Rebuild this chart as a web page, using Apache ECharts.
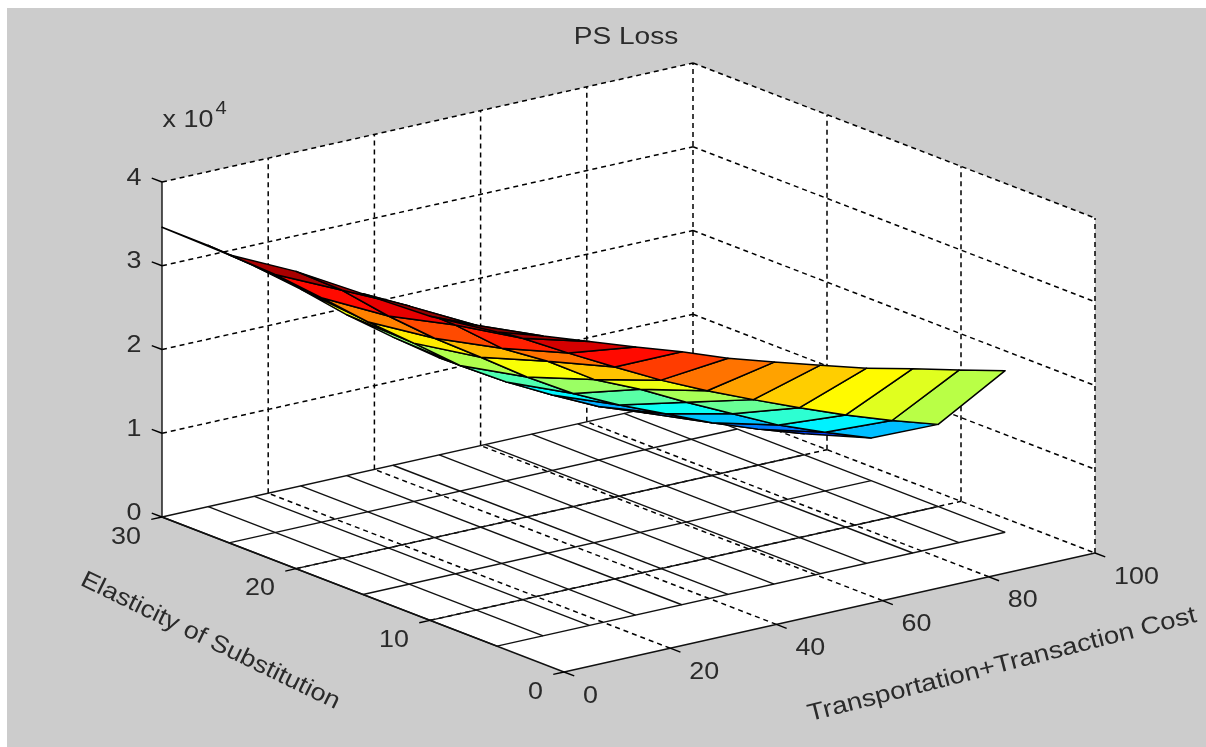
<!DOCTYPE html>
<html><head><meta charset="utf-8">
<script src="https://cdn.jsdelivr.net/npm/echarts@6/dist/echarts.min.js"></script>
<style>html,body{margin:0;padding:0;background:#fff}#c{width:1206px;height:747px}</style>
</head><body><div id="c"></div>
<script>
// ---- data ----
const title = 'PS Loss';
const xName = 'Transportation+Transaction Cost';
const yName = 'Elasticity of Substitution';
const xTicks = [0, 20, 40, 60, 80, 100];
const yTicks = [0, 10, 20, 30];
const zTicks = [0, 1, 2, 3, 4];
const xMesh = [0, 8.7, 17.4, 26.1, 34.8, 43.5, 52.2, 60.9, 69.6, 78.3, 87, 95.7];
const yMesh = [5, 10, 15, 20, 25, 30];
// PS loss in units of 1e4, one list per elasticity, along xMesh
const zAt5  = [3.75, 3.58, 3.39, 3.20, 3.02, 2.82, 2.65, 2.49, 2.33, 2.20, 2.06, 1.93];
const zAt10 = [3.63, 3.40, 3.12, 2.82, 2.53, 2.25, 2.00, 1.77, 1.55, 1.34, 1.15, 0.98];
const zAt15 = [3.59, 3.32, 2.97, 2.57, 2.29, 1.95, 1.71, 1.43, 1.17, 0.91, 0.70, 0.51];
const zAt20 = [3.55, 3.20, 2.77, 2.38, 2.03, 1.67, 1.35, 1.09, 0.86, 0.63, 0.43, 0.25];
const zAt25 = [3.44, 3.08, 2.68, 2.27, 1.89, 1.50, 1.18, 0.90, 0.64, 0.44, 0.28, 0.15];
const zAt30 = [3.46, 3.12, 2.75, 2.35, 1.92, 1.53, 1.16, 0.84, 0.55, 0.36, 0.20, 0.10];
const zRows = [zAt5, zAt10, zAt15, zAt20, zAt25, zAt30];
const zColorMax = 3.7;

// ---- view: oblique projection of the 3D box onto the plane of the hidden axes ----
const X0 = 564, Y0 = 672;
const xRange = 100, yRange = 30, zRange = 4;
const xVec = [531, -119], yVec = [-402, -155], zVec = [0, -335];
function P(x, y, z) {
  return [X0 + xVec[0] * x / xRange + yVec[0] * y / yRange + zVec[0] * z / zRange,
          Y0 + xVec[1] * x / xRange + yVec[1] * y / yRange + zVec[1] * z / zRange];
}
function jet(t) {
  t = Math.max(0, Math.min(1, t));
  const c = v => Math.round(255 * Math.max(0, Math.min(1, 1.5 - Math.abs(4 * t - v))));
  return `rgb(${c(3)},${c(2)},${c(1)})`;
}

const walls = [
  [[0, 30, 0], [100, 30, 0], [100, 30, 4], [0, 30, 4]],
  [[100, 30, 0], [100, 0, 0], [100, 0, 4], [100, 30, 4]],
  [[0, 0, 0], [100, 0, 0], [100, 30, 0], [0, 30, 0]]
];
const dashed = [], solid = [], ticks = [], texts = [];
xTicks.forEach(x => {
  if (x > 0 && x < 100) {
    dashed.push([[x, 30, 0], [x, 30, 4]]);
    dashed.push([[x, 0, 0], [x, 30, 0]]);
  }
});
yTicks.forEach(y => {
  if (y > 0 && y < 30) {
    dashed.push([[100, y, 0], [100, y, 4]]);
    dashed.push([[0, y, 0], [100, y, 0]]);
  }
});
zTicks.forEach(z => {
  if (z > 0) {
    dashed.push([[0, 30, z], [100, 30, z]]);
    dashed.push([[100, 30, z], [100, 0, z]]);
  }
});
dashed.push([[100, 30, 0], [100, 30, 4]], [[100, 0, 0], [100, 0, 4]],
            [[100, 30, 0], [100, 0, 0]], [[95, 30, 0], [100, 30, 0]]);
solid.push([[0, 30, 0], [0, 30, 4]], [[0, 30, 0], [0, 0, 0]], [[0, 0, 0], [100, 0, 0]]);
// mesh drawn on the floor
yMesh.forEach(y => solid.push([[xMesh[0], y, 0], [xMesh[xMesh.length - 1], y, 0]]));
xMesh.forEach(x => solid.push([[x, yMesh[0], 0], [x, yMesh[yMesh.length - 1], 0]]));

const TL = 11;
xTicks.forEach(x => ticks.push({ p: [x, 0, 0], d: [13.4 * TL / 14.4, 5.17 * TL / 14.4] }));
yTicks.forEach(y => ticks.push({ p: [0, y, 0], d: [-5.31 * TL / 5.44, 1.19 * TL / 5.44] }));
zTicks.forEach(z => ticks.push({ p: [0, 30, z], d: [-13.4 * TL / 14.4, -5.17 * TL / 14.4] }));

const TF = 24, SX = 1.12;
const font = 'Liberation Sans';
xTicks.forEach(x => texts.push({ s: String(x), p: [x, 0, 0], o: [19, 24], a: 'left' }));
yTicks.forEach(y => texts.push({ s: String(y), p: [0, y, 0], o: [-21, 20], a: 'right' }));
zTicks.forEach(z => texts.push({ s: String(z), p: [0, 30, z], o: [-28, -4], a: 'center' }));
texts.push({ s: 'x 10', p: [0, 30, 4], o: [26, -62], a: 'center' });
texts.push({ s: '4', p: [0, 30, 4], o: [59, -73], a: 'center', fs: 18 });
texts.push({ s: title, p: [100, 30, 4], o: [-67, -26], a: 'center', sx: 1.17 });

// painter order: far cells first
const cells = [];
for (let j = yMesh.length - 2; j >= 0; j--) {
  for (let k = xMesh.length - 2; k >= 0; k--) cells.push([k, j]);
}

function linesSeries(list, style) {
  return {
    type: 'custom', silent: true, coordinateSystem: 'cartesian2d', clip: false,
    data: list.map((_, i) => [i, 0]),
    renderItem(params, api) {
      const l = list[params.dataIndex];
      const a = api.coord(P(...l[0])), b = api.coord(P(...l[1]));
      return { type: 'line', shape: { x1: a[0], y1: a[1], x2: b[0], y2: b[1] }, style };
    }
  };
}
const option = {
  animation: false,
  backgroundColor: '#ffffff',
  graphic: [{ type: 'rect', z: -10, silent: true, shape: { x: 7, y: 8, width: 1199, height: 739 }, style: { fill: '#cccccc' } }],
  grid: { left: 0, top: 0, right: 0, bottom: 0 },
  xAxis: { type: 'value', min: 0, max: 1206, show: false },
  yAxis: { type: 'value', min: 0, max: 747, inverse: true, show: false },
  series: [
    {
      type: 'custom', silent: true, clip: false, data: walls.map((_, i) => [i, 0]),
      renderItem(params, api) {
        const pts = walls[params.dataIndex].map(p => api.coord(P(...p)));
        return { type: 'polygon', shape: { points: pts }, style: { fill: '#ffffff' } };
      }
    },
    linesSeries(dashed, { stroke: '#000', lineWidth: 1.5, lineDash: [5, 4], fill: null }),
    linesSeries(solid, { stroke: '#111', lineWidth: 1.4, fill: null }),
    {
      type: 'custom', silent: true, clip: false, data: ticks.map((_, i) => [i, 0]),
      renderItem(params, api) {
        const t = ticks[params.dataIndex];
        const a = api.coord(P(...t.p));
        return { type: 'line', shape: { x1: a[0], y1: a[1], x2: a[0] + t.d[0], y2: a[1] + t.d[1] }, style: { stroke: '#000', lineWidth: 1.4 } };
      }
    },
    {
      type: 'custom', silent: true, clip: false, data: cells.map((c, i) => [i, 0]),
      renderItem(params, api) {
        const [k, j] = cells[params.dataIndex];
        const n = (a, b) => api.coord(P(xMesh[a], yMesh[b], zRows[b][a]));
        return {
          type: 'polygon',
          shape: { points: [n(k, j), n(k + 1, j), n(k + 1, j + 1), n(k, j + 1)] },
          style: { fill: jet(zRows[j][k] / zColorMax), stroke: '#000', lineWidth: 1.5, lineJoin: 'round' }
        };
      }
    },
    {
      type: 'custom', silent: true, clip: false, data: texts.map((_, i) => [i, 0]),
      renderItem(params, api) {
        const t = texts[params.dataIndex];
        const a = api.coord(P(...t.p));
        return {
          type: 'text', x: a[0] + t.o[0], y: a[1] + t.o[1], scaleX: t.sx || SX,
          style: { text: t.s, fill: '#2a2a2a', font: `${t.fs || TF}px "${font}"`, textAlign: t.a, textVerticalAlign: 'middle' }
        };
      }
    },
    {
      type: 'custom', silent: true, clip: false, data: [[0, 0], [1, 0]],
      renderItem(params, api) {
        const isX = params.dataIndex === 0;
        const a = isX ? api.coord(P(68, 0, 0)) : api.coord(P(0, 12, 0));
        return {
          type: 'text',
          x: a[0] + (isX ? 77 : -193), y: a[1] + (isX ? 74 : 31),
          rotation: (isX ? 14.4 : -26) * Math.PI / 180, scaleX: isX ? 1.15 : 1.125,
          style: { text: isX ? xName : yName, fill: '#2a2a2a', font: `24px "${font}"`, textAlign: 'center', textVerticalAlign: 'middle' }
        };
      }
    }
  ]
};
echarts.init(document.getElementById('c'), null, { renderer: 'canvas' }).setOption(option);
</script></body></html>
